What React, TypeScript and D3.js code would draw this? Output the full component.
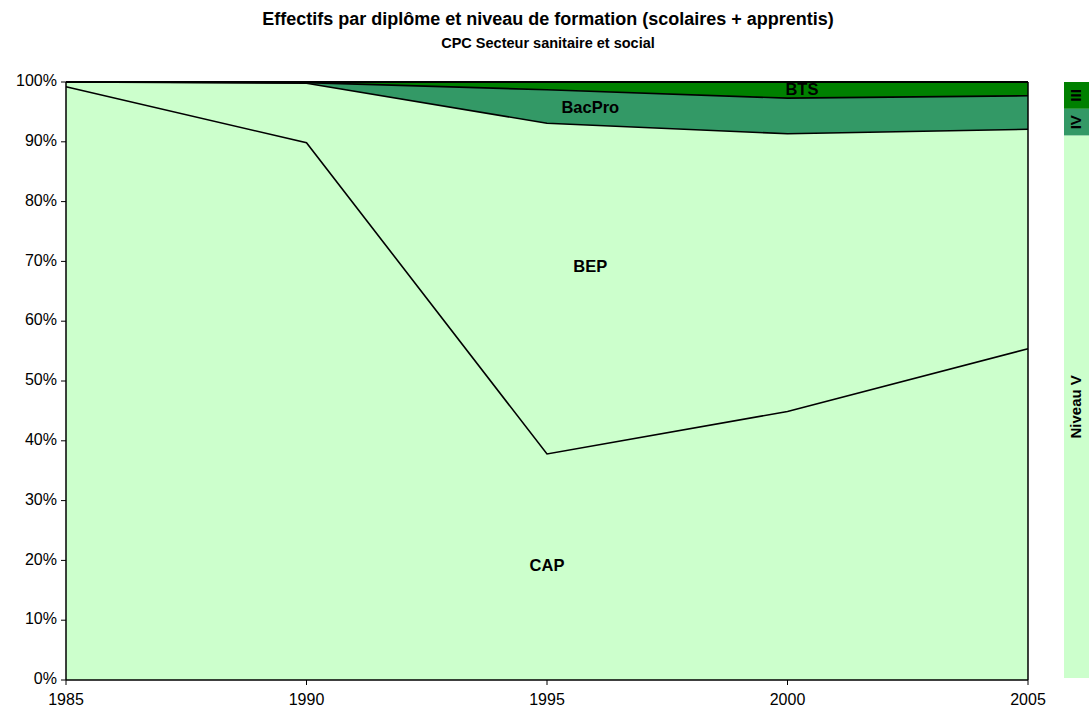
import React from "react";
import * as d3 from "d3";

const years = [1985, 1990, 1995, 2000, 2005];
const seriesNames = ["CAP", "BEP", "BacPro", "BTS"];
const cap = [99.2, 89.85, 37.8, 44.9, 55.4];
const bep = [0.8, 9.95, 55.3, 46.45, 36.7];
const bacpro = [0, 0.1, 5.6, 5.95, 5.6];
const bts = [0, 0.1, 1.3, 2.7, 2.3];
const yTicks = [0, 10, 20, 30, 40, 50, 60, 70, 80, 90, 100];
const xTicks = [1985, 1990, 1995, 2000, 2005];
const levelNames = ["III", "IV", "Niveau V"];
const levelShares = [4.5, 4.5, 91];

const W = 1089, H = 711;
const L = 66, R = 1028, T = 82, B = 680;
const font = "'Liberation Sans', Arial, sans-serif";

export default function App() {
  const x = d3.scaleLinear().domain([1985, 2005]).range([L, R]);
  const y = d3.scaleLinear().domain([0, 100]).range([B, T]);
  const rows = years.map((yr, i) => ({ year: yr, CAP: cap[i], BEP: bep[i], BacPro: bacpro[i], BTS: bts[i] }));
  const stacked = d3.stack<any>().keys(seriesNames)(rows);
  const colors = ["#CCFFCC", "#CCFFCC", "#339966", "#008000"];
  const area = d3.area<any>().x((d) => x(d.data.year)).y0((d) => y(d[0])).y1((d) => y(d[1]));
  const line = d3.line<any>().x((d) => x(d.data.year)).y((d) => y(d[1]));

  const labelPos: Record<string, [number, number]> = {
    CAP: [1995, 19],
    BEP: [1995.9, 69],
    BacPro: [1995.9, 95.6],
    BTS: [2000.3, 98.5],
  };

  const lb = d3.scaleLinear().domain([0, 100]).range([82, 678]);
  let acc = 0;
  const legendCells = levelNames.map((n, i) => {
    const y0 = lb(acc);
    acc += levelShares[i];
    const y1 = lb(acc);
    return { n, y0, y1 };
  });
  const legendColors = ["#008000", "#339966", "#CCFFCC"];

  return (
    <svg width={W} height={H} style={{ position: "absolute", left: 0, top: 0, background: "#fff" }} fontFamily={font}>
      <text x={548} y={25} textAnchor="middle" fontSize={18} fontWeight="bold">
        Effectifs par diplôme et niveau de formation (scolaires + apprentis)
      </text>
      <text x={548} y={47.5} textAnchor="middle" fontSize={14.5} fontWeight="bold">
        CPC Secteur sanitaire et social
      </text>

      {stacked.map((s, i) => (
        <path key={"a" + i} d={area(s) as string} fill={colors[i]} stroke="none" />
      ))}
      {stacked.map((s, i) => (
        <path key={"l" + i} d={line(s) as string} fill="none" stroke="#000" strokeWidth={1.6} />
      ))}

      {seriesNames.map((n) => (
        <text key={n} x={x(labelPos[n][0])} y={y(labelPos[n][1])} textAnchor="middle" dominantBaseline="middle" fontSize={16.5} fontWeight="bold">
          {n}
        </text>
      ))}

      <line x1={L} y1={T} x2={L} y2={B} stroke="#000" strokeWidth={1.5} />
      <line x1={L} y1={B} x2={R} y2={B} stroke="#000" strokeWidth={1.5} />
      <line x1={R} y1={T} x2={R} y2={B} stroke="#000" strokeWidth={1.5} />
      <line x1={L} y1={T} x2={R} y2={T} stroke="#000" strokeWidth={2} />
      {yTicks.map((t) => (
        <g key={"y" + t}>
          <line x1={L - 5} x2={L} y1={y(t)} y2={y(t)} stroke="#000" />
          <text x={L - 9} y={y(t)} textAnchor="end" dominantBaseline="middle" fontSize={16}>
            {t}%
          </text>
        </g>
      ))}
      {xTicks.map((t) => (
        <g key={"x" + t}>
          <line x1={x(t)} x2={x(t)} y1={B} y2={B + 5} stroke="#000" />
          <text x={x(t)} y={701} textAnchor="middle" dominantBaseline="middle" fontSize={16}>
            {t}
          </text>
        </g>
      ))}

      {legendCells.map((c, i) => (
        <g key={"lg" + i}>
          <rect x={1064} y={c.y0} width={25} height={c.y1 - c.y0} fill={legendColors[i]} />
          <text
            transform={`translate(1077,${(c.y0 + c.y1) / 2}) rotate(-90)`}
            textAnchor="middle"
            dominantBaseline="middle"
            fontSize={15}
            fontWeight="bold"
          >
            {c.n}
          </text>
        </g>
      ))}
    </svg>
  );
}
